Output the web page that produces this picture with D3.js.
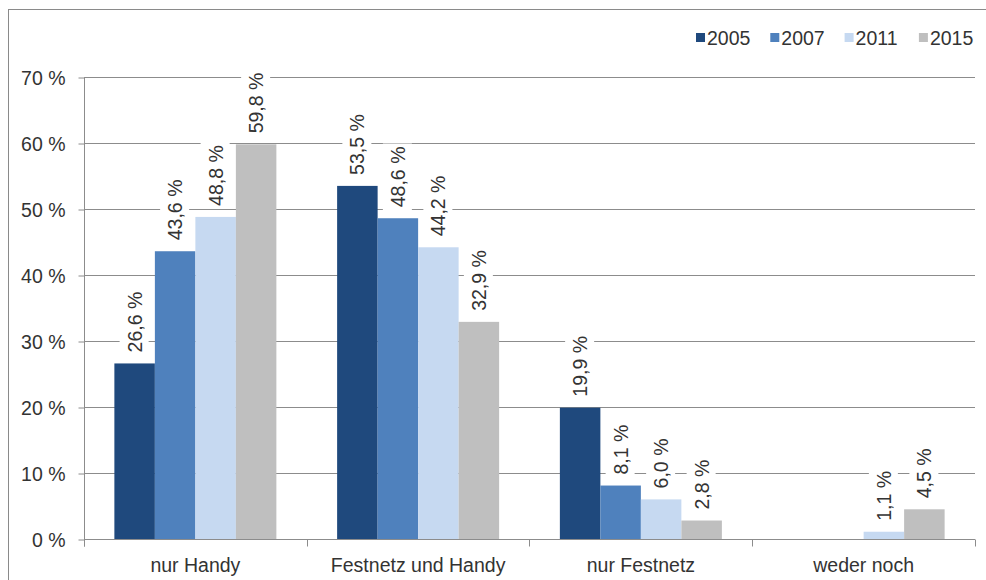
<!DOCTYPE html>
<html>
<head>
<meta charset="utf-8">
<script src="https://cdn.jsdelivr.net/npm/d3@7/dist/d3.min.js"></script>
<style>
  html, body { margin: 0; padding: 0; background: #fff; }
  svg { display: block; font-family: "Liberation Sans", Arial, sans-serif; }
</style>
</head>
<body>
<svg id="chart" width="986" height="580"></svg>
<script>
// Telefonanschlüsse der Haushalte, Anteile in Prozent
const categories = ["nur Handy", "Festnetz und Handy", "nur Festnetz", "weder noch"];
const years = ["2005", "2007", "2011", "2015"];
const values2005 = [26.6, 53.5, 19.9, null];
const values2007 = [43.6, 48.6, 8.1, null];
const values2011 = [48.8, 44.2, 6.0, 1.1];
const values2015 = [59.8, 32.9, 2.8, 4.5];
const yTicks = [0, 10, 20, 30, 40, 50, 60, 70];
const colors = ["#1f497d", "#4f81bd", "#c6d9f1", "#bfbfbf"];

const seriesValues = [values2005, values2007, values2011, values2015];
const rows = [];
categories.forEach((c, ci) => {
  years.forEach((yr, si) => {
    const v = seriesValues[si][ci];
    if (v !== null) rows.push({ category: c, year: yr, value: v, color: colors[si] });
  });
});

const svg = d3.select("#chart");
const textColor = "#333333";
const fontSize = 19.5;
const fmt = v => d3.format(".1f")(v).replace(".", ",") + " %";

const plot = { left: 84, right: 975, top: 77, bottom: 539 };

const x0 = d3.scaleBand()
  .domain(categories)
  .range([plot.left, plot.right])
  .paddingInner(0.2727)
  .paddingOuter(0.13636);

const x1 = d3.scaleBand()
  .domain(years)
  .range([0, x0.bandwidth()]);

const y = d3.scaleLinear()
  .domain([0, 70])
  .range([plot.bottom, plot.top]);

// outer frame
svg.append("rect")
  .attr("x", 8.5).attr("y", 9.5)
  .attr("width", 1000).attr("height", 600)
  .attr("fill", "none").attr("stroke", "#8a8a8a").attr("stroke-width", 1);

// horizontal gridlines
svg.append("g")
  .selectAll("line")
  .data(yTicks.filter(t => t > 0))
  .join("line")
  .attr("x1", plot.left).attr("x2", plot.right)
  .attr("y1", d => Math.round(y(d)) + 0.5).attr("y2", d => Math.round(y(d)) + 0.5)
  .attr("stroke", "#8c8c8c").attr("stroke-width", 1);

// y axis
const yAxis = d3.axisLeft(y)
  .tickValues(yTicks)
  .tickSize(6)
  .tickPadding(13)
  .tickFormat(d => d + " %");
const gy = svg.append("g")
  .attr("transform", `translate(${plot.left + 0.5},0.5)`)
  .call(yAxis);
gy.select(".domain").attr("stroke", "#8c8c8c").attr("d", `M0,${plot.top}V${plot.bottom + 7}`);
gy.selectAll(".tick line").attr("stroke", "#8c8c8c");
gy.selectAll(".tick text")
  .attr("fill", textColor)
  .attr("font-size", fontSize)
  .attr("font-family", "'Liberation Sans', Arial, sans-serif")
  .attr("dy", "0.35em");

// bars
svg.append("g")
  .selectAll("rect")
  .data(rows)
  .join("rect")
  .attr("x", d => x0(d.category) + x1(d.year))
  .attr("width", x1.bandwidth())
  .attr("y", d => y(d.value))
  .attr("height", d => y(0) - y(d.value))
  .attr("fill", d => d.color);

// x axis
const xAxis = d3.axisBottom(x0).tickSize(0).tickPadding(19);
const gx = svg.append("g")
  .attr("transform", `translate(0,${plot.bottom + 0.5})`)
  .call(xAxis);
gx.select(".domain").attr("stroke", "#8c8c8c").attr("d", `M${plot.left},0H${plot.right}`);
gx.selectAll(".tick text")
  .attr("fill", textColor)
  .attr("font-size", fontSize)
  .attr("font-family", "'Liberation Sans', Arial, sans-serif");
// category separators
const step = x0.step();
gx.append("g")
  .selectAll("line")
  .data(d3.range(categories.length + 1))
  .join("line")
  .attr("x1", i => Math.round(plot.left + i * step) + 0.5)
  .attr("x2", i => Math.round(plot.left + i * step) + 0.5)
  .attr("y1", 0).attr("y2", 7)
  .attr("stroke", "#8c8c8c");

// value labels, rotated, on a white background
const labels = svg.append("g")
  .selectAll("g")
  .data(rows)
  .join("g")
  .attr("transform", d => {
    const cx = x0(d.category) + x1(d.year) + x1.bandwidth() / 2;
    return `translate(${cx + 7},${y(d.value) - 11}) rotate(-90)`;
  });
labels.append("text")
  .attr("x", 0).attr("y", 0)
  .attr("font-size", fontSize)
  .attr("fill", textColor)
  .text(d => fmt(d.value));
labels.each(function () {
  const g = d3.select(this);
  const b = g.select("text").node().getBBox();
  g.insert("rect", "text")
    .attr("x", b.x - 3).attr("y", b.y - 4)
    .attr("width", b.width + 6).attr("height", b.height + 7)
    .attr("fill", "#fff");
});

// legend
const legend = svg.append("g")
  .selectAll("g")
  .data(years)
  .join("g")
  .attr("transform", (d, i) => `translate(${696 + i * 74.3},0)`);
legend.append("rect")
  .attr("x", 0).attr("y", 33)
  .attr("width", 9).attr("height", 9)
  .attr("fill", (d, i) => colors[i]);
legend.append("text")
  .attr("x", 11).attr("y", 44.5)
  .attr("font-size", fontSize)
  .attr("fill", textColor)
  .text(d => d);
</script>
</body>
</html>
